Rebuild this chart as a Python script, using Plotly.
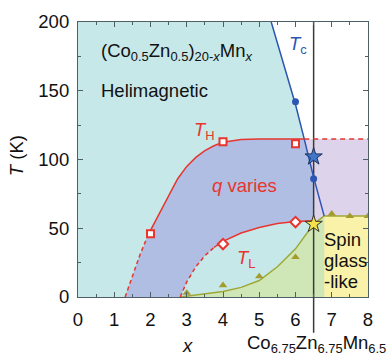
import plotly.graph_objects as go

# ---------------- data ----------------
X_RANGE = [0, 8]
T_RANGE = [0, 200]
X_TICKS = [0, 1, 2, 3, 4, 5, 6, 7, 8]
T_TICKS = [0, 50, 100, 150, 200]

X_CRIT = 6.5          # Co6.75Zn6.75Mn6.5 composition

# T_H boundary (dashed part, then solid part up to the Tc crossing)
TH_dash_x = [1.30, 1.50, 1.70, 1.90]
TH_dash_T = [0, 15.5, 30, 43]
TH_solid_x = [1.90, 2.00, 2.25, 2.50, 2.75, 3.00, 3.25, 3.50, 3.75, 4.00, 4.50, 5.00, 5.50, 6.00, 6.24]
TH_solid_T = [43, 48.5, 61, 73, 86, 95, 101.5, 106.5, 110, 112.5, 114.5, 115, 115, 115, 115]
TH_ext_x = [6.24, 8.0]
TH_ext_T = [115, 115]

# T_L boundary
TL_dash_x = [2.82, 3.00, 3.25, 3.50, 3.75]
TL_dash_T = [0, 11, 22, 30, 36]
TL_solid_x = [3.75, 4.00, 4.50, 5.00, 5.50, 6.00, 6.50]
TL_solid_T = [36, 40.5, 46.5, 50.5, 53.5, 55, 55.5]

# T_c line
TC_x = [5.33, 6.00, 6.24, 6.50, 6.79]
TC_T = [200, 140, 115, 87, 59]

# T_g line
TG_x = [2.82, 3.00, 3.50, 4.00, 4.50, 5.00, 5.50, 6.00, 6.50, 6.79, 8.00]
TG_T = [0, 0.6, 2, 4, 7, 12, 22, 35, 53, 59, 59]

# markers
SQ_x = [2, 4, 6]
SQ_T = [46, 113, 111.5]
DI_x = [4, 6]
DI_T = [38.5, 54.5]
TRI_x = [3, 4, 5, 6, 7, 7.5, 8]
TRI_T = [3, 8.5, 15, 29, 60.5, 58.8, 58.8]
CIRC_x = [6.0, 6.5]
CIRC_T = [142, 86]
STAR_BLUE = (6.5, 102)
STAR_YELLOW = (6.5, 53)

# colours
C_CYAN = "#c6e8e8"
C_BLUE = "#b0bee3"
C_PURPLE = "#ddd3ea"
C_YELLOW = "#faf2a8"
C_GREEN = "#cfe7b6"
C_RED = "#e8352e"
C_TCBLUE = "#2c56b4"
C_OLIVE = "#a39b2b"
C_OLIVE_LINE = "#9ea836"

FONT = "Liberation Sans, Arial, sans-serif"
FS = 18.5

fig = go.Figure()


def fill(xs, ts, color):
    fig.add_trace(go.Scatter(x=xs, y=ts, mode="lines", fill="toself", fillcolor=color,
                             line=dict(width=0), hoverinfo="skip"))


# white region (above T_H, right of Tc)
i115 = TC_x.index(6.24)
fill(TC_x[:i115 + 1] + [X_RANGE[1], X_RANGE[1]],
     TC_T[:i115 + 1] + [TH_ext_T[1], T_RANGE[1]], "white")
# purple region (right of Tc, between Tg plateau and T_H)
i65 = TC_x.index(X_CRIT)
ig65 = TG_x.index(X_CRIT)
fill(TC_x[i115:i65 + 1] + TG_x[ig65:] + [X_RANGE[1]],
     TC_T[i115:i65 + 1] + TG_T[ig65:] + [TH_ext_T[1]], C_PURPLE)
# yellow region (spin glass)
fill([TG_x[-2], TG_x[-2], TG_x[-1], TG_x[-1]], [0, TG_T[-2], TG_T[-1], 0], C_YELLOW)
# green region (below Tg)
fill(TG_x[:-1] + [TG_x[-2]], TG_T[:-1] + [0], C_GREEN)
# blue region (q varies)
bx = TH_dash_x + TH_solid_x[1:] + TC_x[i115 + 1:i65 + 1] + (TL_dash_x + TL_solid_x[1:])[::-1]
bt = TH_dash_T + TH_solid_T[1:] + TC_T[i115 + 1:i65 + 1] + (TL_dash_T + TL_solid_T[1:])[::-1]
fill(bx, bt, C_BLUE)

# vertical composition line (inside plot)
fig.add_trace(go.Scatter(x=[X_CRIT, X_CRIT], y=T_RANGE, mode="lines",
                         line=dict(color="#3a3a3a", width=1.5), hoverinfo="skip"))


def line(xs, ts, color, dash="solid"):
    fig.add_trace(go.Scatter(x=xs, y=ts, mode="lines", line=dict(color=color, width=1.5, dash=dash),
                             hoverinfo="skip"))


line(TG_x, TG_T, C_OLIVE_LINE)
line(TC_x, TC_T, C_TCBLUE)
line(TH_dash_x, TH_dash_T, C_RED, "4px,3px")
line(TH_solid_x, TH_solid_T, C_RED)
line(TH_ext_x, TH_ext_T, C_RED, "5px,4px")
line(TL_dash_x, TL_dash_T, C_RED, "4px,3px")
line(TL_solid_x, TL_solid_T, C_RED)

# markers
fig.add_trace(go.Scatter(x=TRI_x, y=TRI_T, mode="markers",
                         marker=dict(symbol="triangle-up", size=7.5, color=C_OLIVE), hoverinfo="skip"))
fig.add_trace(go.Scatter(x=CIRC_x, y=CIRC_T, mode="markers",
                         marker=dict(symbol="circle", size=7, color=C_TCBLUE), hoverinfo="skip"))
fig.add_trace(go.Scatter(x=SQ_x, y=SQ_T, mode="markers",
                         marker=dict(symbol="square", size=7, color="white",
                                     line=dict(color=C_RED, width=2)), hoverinfo="skip"))
fig.add_trace(go.Scatter(x=DI_x, y=DI_T, mode="markers",
                         marker=dict(symbol="diamond", size=8, color="white",
                                     line=dict(color=C_RED, width=2)), hoverinfo="skip"))
fig.add_trace(go.Scatter(x=[STAR_BLUE[0]], y=[STAR_BLUE[1]], mode="markers",
                         marker=dict(symbol="star", size=13, color="#3f78c8",
                                     line=dict(color="#1d2f5a", width=1)), hoverinfo="skip"))
fig.add_trace(go.Scatter(x=[STAR_YELLOW[0]], y=[STAR_YELLOW[1]], mode="markers",
                         marker=dict(symbol="star", size=13, color="#f4e04a",
                                     line=dict(color="#3a3520", width=1)), hoverinfo="skip"))

# vertical line below the axis down to the composition label
fig.add_shape(type="line", xref="x", yref="paper", x0=X_CRIT, x1=X_CRIT, y0=-0.13, y1=0,
              line=dict(color="#3a3a3a", width=1.5))


def ann(text, x, y, color="#111111", xanchor="left", xref="x", yref="y", size=FS, **kw):
    fig.add_annotation(text=text, x=x, y=y, xref=xref, yref=yref, showarrow=False,
                       xanchor=xanchor, yanchor="middle", font=dict(family=FONT, size=size, color=color), **kw)


ann("(Co<sub>0.5</sub>Zn<sub>0.5</sub>)<sub>20-<i>x</i></sub>Mn<sub><i>x</i></sub>", 0.57, 178)
ann("Helimagnetic", 0.59, 150.5)
ann("<i>T</i><sub>H</sub>", 3.15, 121, color=C_RED)
ann("<i>T</i><sub>c</sub>", 5.77, 183, color=C_TCBLUE)
ann("<i>q</i> varies", 4.59, 81, color=C_RED, xanchor="center")
ann("<i>T</i><sub>L</sub>", 4.34, 28, color=C_RED)
ann("Spin", 6.73, 41.5)
ann("glass", 6.73, 26.5)
ann("-like", 6.73, 11.5)
ann("<i>T</i><sub>g</sub>", 8.23, 48, color=C_OLIVE)
ann("<i>x</i>", 0.377, -0.175, xref="paper", yref="paper", xanchor="center")
ann("Co<sub>6.75</sub>Zn<sub>6.75</sub>Mn<sub>6.5</sub>", 0.577, -0.172, xref="paper", yref="paper")
ann("<i>T</i> (K)", -0.211, 0.515, xref="paper", yref="paper", xanchor="center", textangle=-90)

axis_common = dict(showline=True, linecolor="#4f5f66", linewidth=1.2, mirror="ticks",
                   ticks="inside", ticklen=5, tickcolor="#4f5f66", tickwidth=1.2,
                   showgrid=False, zeroline=False, automargin=False,
                   tickfont=dict(family=FONT, size=FS, color="#111111"))

fig.update_xaxes(range=X_RANGE, tickvals=X_TICKS, ticklabelstandoff=6,
                 minor=dict(dtick=0.5, ticks="inside", ticklen=3, tickcolor="#4f5f66", showgrid=False),
                 **axis_common)
fig.update_yaxes(range=T_RANGE, tickvals=T_TICKS, ticklabelstandoff=4,
                 minor=dict(dtick=25, ticks="inside", ticklen=3, tickcolor="#4f5f66", showgrid=False),
                 **axis_common)

fig.update_layout(width=389, height=357, margin=dict(l=78, r=21, t=22, b=60, autoexpand=False),
                  plot_bgcolor=C_CYAN, paper_bgcolor="white", showlegend=False,
                  hovermode=False)

fig.write_html("out.html", config={"displayModeBar": False},
               post_script="document.body.style.margin='0';document.body.style.overflow='hidden';")
